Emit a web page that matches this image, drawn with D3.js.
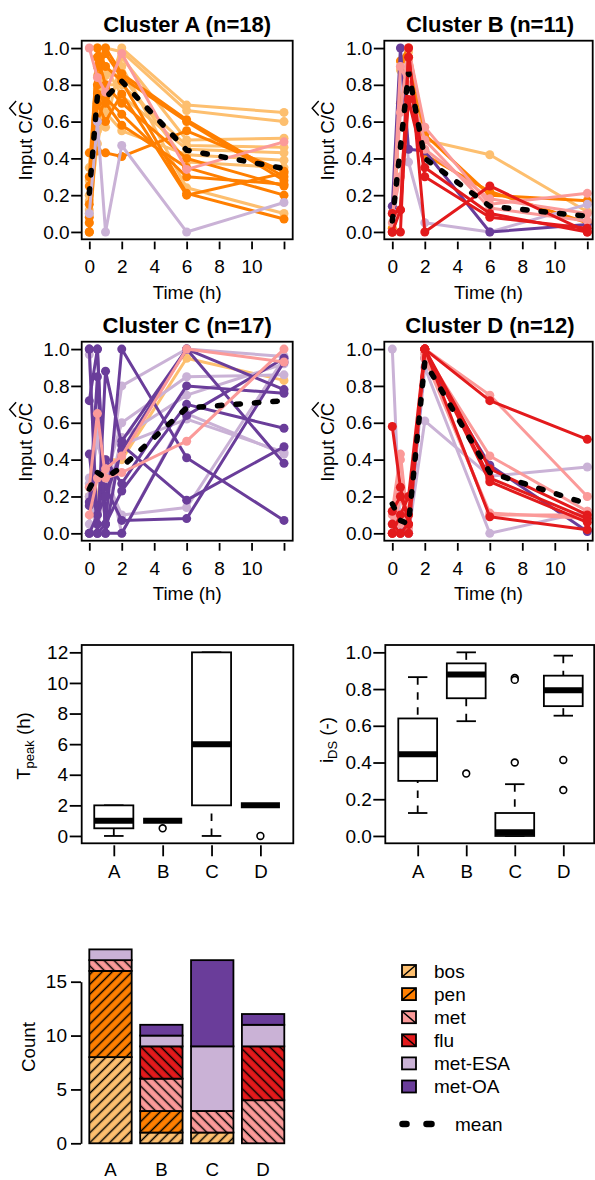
<!DOCTYPE html>
<html><head><meta charset="utf-8">
<script src="https://cdn.jsdelivr.net/npm/d3@7"></script>
<style>
body{margin:0;background:#fff}
svg{display:block}
text{font-family:"Liberation Sans",Arial,sans-serif;fill:#000}
</style>
</head><body>
<svg id="c" width="595" height="1180"></svg>
<script>
// ---------------- DATA ----------------
const times = [0, 0.5, 1, 2, 6, 12];
const timeTicks = [0, 2, 4, 6, 8, 10, 12];
const timeTickLabels = ["0", "2", "4", "6", "8", "10", ""];
const ratioTicks = [0, 0.2, 0.4, 0.6, 0.8, 1.0];
const drugs = ["bos", "pen", "met", "flu", "met-ESA", "met-OA"];
const drugColors = ["#FDBF6F", "#FF7F00", "#FB9A99", "#E31A1C", "#CAB2D6", "#6A3D9A"];
const clusterNames = ["A", "B", "C", "D"];
const clusterN = [18, 11, 17, 12];

// drug index of each series (0 bos,1 pen,2 met,3 flu,4 met-ESA,5 met-OA)
const clusterADrug = [0,0,0,0,0,0,0,0, 1,1,1,1,1,1,1,1, 2, 4];
const clusterAValues = [
  [0.28, 1.00, 0.75, 1.00, 0.69, 0.65],
  [0.10, 0.85, 1.00, 0.98, 0.66, 0.60],
  [0.17, 0.62, 0.57, 0.95, 0.50, 0.51],
  [0.05, 0.70, 0.80, 0.80, 0.47, 0.46],
  [0.00, 0.55, 0.90, 0.74, 0.45, 0.43],
  [0.35, 0.95, 0.65, 0.55, 0.42, 0.39],
  [0.20, 0.78, 0.85, 0.90, 0.24, 0.10],
  [0.12, 0.48, 0.70, 0.85, 0.38, 0.35],
  [0.43, 0.44, 0.43, 0.41, 0.55, 0.33],
  [0.00, 0.80, 1.00, 0.86, 0.61, 0.30],
  [0.05, 0.90, 0.97, 0.84, 0.60, 0.28],
  [0.00, 0.60, 0.73, 0.64, 0.30, 0.26],
  [0.15, 0.75, 0.70, 0.58, 0.35, 0.20],
  [0.25, 1.00, 0.90, 0.82, 0.21, 0.07],
  [0.08, 0.70, 0.60, 0.75, 0.20, 0.32],
  [0.30, 0.95, 0.80, 0.70, 0.40, 0.25],
  [1.00, 0.84, 0.76, 0.97, 0.34, 0.49],
  [0.10, 0.60, 0.00, 0.47, 0.00, 0.16]
];
const meanA = [0.21, 0.74, 0.73, 0.82, 0.445, 0.345];

const clusterBDrug = [0, 1,1, 2,2,2, 3,3,3, 4, 5];
const clusterBValues = [
  [0.00, 0.88, 0.98, 0.50, 0.42, 0.11],
  [0.02, 0.93, 1.00, 0.53, 0.20, 0.17],
  [0.00, 0.70, 0.95, 0.42, 0.22, 0.05],
  [0.05, 0.65, 1.00, 0.57, 0.15, 0.21],
  [0.00, 0.90, 0.80, 0.50, 0.13, 0.06],
  [0.10, 0.30, 0.70, 0.45, 0.18, 0.10],
  [0.00, 0.00, 1.00, 0.00, 0.25, 0.00],
  [0.10, 0.12, 0.95, 0.30, 0.08, 0.02],
  [0.00, 0.12, 0.72, 0.35, 0.10, 0.00],
  [0.00, 0.90, 0.38, 0.05, 0.00, 0.15],
  [0.14, 1.00, 0.45, 0.44, 0.00, 0.04]
];
const meanB = [0.06, 0.46, 0.87, 0.40, 0.14, 0.085];

const clusterCDrug = [0, 2,2, 4,4,4,4,4,4, 5,5,5,5,5,5,5,5];
const clusterCValues = [
  [0.20, 0.20, 0.40, 0.40, 0.95, 0.83],
  [0.25, 0.65, 0.30, 0.33, 0.50, 1.00],
  [0.10, 0.30, 0.35, 0.42, 1.00, 0.93],
  [0.97, 0.05, 0.20, 0.80, 1.00, 0.96],
  [0.27, 0.50, 0.30, 0.60, 0.85, 0.86],
  [0.00, 0.10, 0.30, 0.10, 0.14, 0.95],
  [0.20, 0.00, 0.40, 0.00, 0.65, 0.43],
  [0.05, 0.60, 0.15, 0.52, 0.75, 0.92],
  [0.30, 0.00, 0.05, 0.48, 0.62, 0.44],
  [1.00, 1.00, 0.05, 1.00, 0.41, 0.07],
  [1.00, 0.00, 0.88, 0.48, 0.18, 0.47],
  [0.72, 1.00, 0.00, 0.50, 1.00, 0.38],
  [0.43, 0.05, 0.40, 0.27, 0.80, 0.76],
  [0.17, 0.30, 0.25, 0.07, 0.08, 0.93],
  [0.00, 0.00, 0.05, 0.23, 0.70, 0.57],
  [0.15, 0.85, 0.00, 0.00, 0.64, 0.95],
  [0.00, 0.10, 0.20, 0.45, 1.00, 0.78]
];
const meanC = [0.24, 0.33, 0.30, 0.36, 0.68, 0.72];

const clusterDDrug = [2,2,2,2, 3,3,3,3,3, 4,4, 5];
const clusterDValues = [
  [0.12, 0.43, 0.03, 1.00, 0.75, 0.20],
  [0.05, 0.40, 0.00, 0.98, 0.42, 0.12],
  [0.00, 0.20, 0.05, 0.97, 0.10, 0.10],
  [0.10, 0.05, 0.10, 0.95, 0.11, 0.08],
  [0.58, 0.25, 0.05, 1.00, 0.72, 0.51],
  [0.12, 0.20, 0.10, 1.00, 0.35, 0.10],
  [0.00, 0.00, 0.00, 1.00, 0.30, 0.08],
  [0.05, 0.00, 0.05, 1.00, 0.09, 0.02],
  [0.00, 0.10, 0.20, 1.00, 0.28, 0.06],
  [1.00, 0.00, 0.00, 0.90, 0.00, 0.12],
  [0.00, 0.00, 0.00, 0.61, 0.31, 0.36],
  [0.05, 0.05, 0.00, 0.95, 0.37, 0.01]
];
const meanD = [0.16, 0.07, 0.05, 0.93, 0.33, 0.16];

// boxplot summaries [lower whisker, q1, median, q3, upper whisker]
const tpeakTicks = [0, 2, 4, 6, 8, 10, 12];
const tpeakBox = [[0, 0.5, 1, 2, 2], [1, 1, 1, 1, 1], [0, 2, 6, 12, 12], [2, 2, 2, 2, 2]];
const tpeakOut = [[], [0.5], [], [0]];
const idsTicks = [0, 0.2, 0.4, 0.6, 0.8, 1.0];
const idsBox = [[0.125, 0.30, 0.445, 0.64, 0.865], [0.625, 0.75, 0.88, 0.94, 1.0],
                [0.0, 0.0, 0.02, 0.125, 0.282], [0.655, 0.707, 0.793, 0.873, 0.982]];
const idsOut = [[], [0.34], [0.86, 0.85, 0.40], [0.414, 0.25]];

// stacked counts per cluster
const countTicks = [0, 5, 10, 15];
const countBos = [8, 1, 1, 0];
const countPen = [8, 2, 0, 0];
const countMet = [1, 3, 2, 4];
const countFlu = [0, 3, 0, 5];
const countMetESA = [1, 1, 6, 2];
const countMetOA = [0, 1, 8, 1];

// ---------------- DRAWING ----------------
const FONT = '"Liberation Sans", Arial, sans-serif';
const svg = d3.select("#c");
const defs = svg.append("defs");
function hatch(id, angle) {
  const p = defs.append("pattern").attr("id", id).attr("patternUnits", "userSpaceOnUse")
    .attr("width", 7).attr("height", 7).attr("patternTransform", `rotate(${angle})`);
  p.append("line").attr("x1", 3.5).attr("x2", 3.5).attr("y1", -1).attr("y2", 8)
    .attr("stroke", "#000").attr("stroke-width", 1.5);
}
hatch("hR", 45);
hatch("hL", -45);
const drugHatch = ["hR", "hR", "hL", "hL", null, null];
const drawRank = [0, 1, 4, 5, 2, 3];

function styleAxis(g, fs) {
  g.attr("font-family", FONT).attr("font-size", fs);
  g.select(".domain").remove();
  g.selectAll(".tick line").attr("stroke", "#000").attr("stroke-width", 1.8);
  g.selectAll(".tick text").attr("fill", "#000");
}

function ylabelHat(x, cy) {
  const g = svg.append("g").attr("transform", `translate(${x},${cy}) rotate(-90)`);
  const t = g.append("text").attr("text-anchor", "middle").attr("font-size", 18.7).text("Input C/C");
  const ex = t.node().getExtentOfChar(8);
  const top = -13.6;
  g.append("path")
    .attr("d", `M${ex.x - 0.5},${top - 2} L${ex.x + ex.width / 2},${top - 8.5} L${ex.x + ex.width + 0.5},${top - 2}`)
    .attr("fill", "none").attr("stroke", "#000").attr("stroke-width", 1.4);
}

const panels = [
  {c: 0, l: 81.7, r: 292.7, t: 40.7, b: 239.3, x0: 89.3, x12: 284.0, drug: clusterADrug, vals: clusterAValues, mean: meanA},
  {c: 1, l: 384.3, r: 592.7, t: 40.7, b: 239.3, x0: 392.3, x12: 587.3, drug: clusterBDrug, vals: clusterBValues, mean: meanB},
  {c: 2, l: 81.7, r: 292.7, t: 341.7, b: 540.7, x0: 89.3, x12: 284.0, drug: clusterCDrug, vals: clusterCValues, mean: meanC},
  {c: 3, l: 384.3, r: 592.7, t: 341.7, b: 540.7, x0: 392.3, x12: 587.3, drug: clusterDDrug, vals: clusterDValues, mean: meanD}
];

panels.forEach((p, pi) => {
  const x = d3.scaleLinear().domain([0, 12]).range([p.x0, p.x12]);
  const y = d3.scaleLinear().domain([-0.04, 1.04]).range([p.b, p.t]);
  defs.append("clipPath").attr("id", "clip" + pi).append("rect")
    .attr("x", p.l).attr("y", p.t).attr("width", p.r - p.l).attr("height", p.b - p.t);
  const g = svg.append("g").attr("clip-path", `url(#clip${pi})`);
  const order = d3.range(p.vals.length).sort((a, b) => drawRank[p.drug[a]] - drawRank[p.drug[b]] || a - b);
  const line = d3.line().x((d, i) => x(times[i])).y(d => y(d));
  order.forEach(si => {
    const col = drugColors[p.drug[si]];
    g.append("path").attr("d", line(p.vals[si])).attr("fill", "none")
      .attr("stroke", col).attr("stroke-width", 3).attr("stroke-linejoin", "round");
    g.selectAll(null).data(p.vals[si]).enter().append("circle")
      .attr("cx", (d, i) => x(times[i])).attr("cy", d => y(d)).attr("r", 4.5).attr("fill", col);
  });
  g.append("path").attr("d", line(p.mean)).attr("fill", "none").attr("stroke", "#000")
    .attr("stroke-width", 5.5).attr("stroke-dasharray", "4.5,14").attr("stroke-linecap", "round");
  // box
  svg.append("rect").attr("x", p.l).attr("y", p.t).attr("width", p.r - p.l).attr("height", p.b - p.t)
    .attr("fill", "none").attr("stroke", "#000").attr("stroke-width", 1.8);
  // axes
  const ay = svg.append("g").attr("transform", `translate(${p.l},0)`)
    .call(d3.axisLeft(y).tickValues(ratioTicks).tickFormat(d3.format(".1f")).tickSize(10.5).tickPadding(1.5));
  styleAxis(ay, 19);
  const ax = svg.append("g").attr("transform", `translate(0,${p.b + 2.3})`)
    .call(d3.axisBottom(x).tickValues(timeTicks).tickFormat((d, i) => timeTickLabels[i]).tickSize(7.7).tickPadding(10.5));
  styleAxis(ax, 19);
  svg.append("text").attr("x", (p.l + p.r) / 2 + (pi % 2 ? 1.5 : 0)).attr("y", p.t - 9)
    .attr("text-anchor", "middle").attr("font-size", 22).attr("font-weight", "bold")
    .text(`Cluster ${clusterNames[p.c]} (n=${clusterN[p.c]})`);
  svg.append("text").attr("x", (p.l + p.r) / 2).attr("y", p.b + 59.5)
    .attr("text-anchor", "middle").attr("font-size", 18.7).text("Time (h)");
  ylabelHat(p.l - 50, (p.t + p.b) / 2 + 1);
});

// ---------------- BOXPLOTS ----------------
function boxPanel(o) {
  const x = d3.scaleLinear().domain([1, 4]).range([o.xA, o.xD]);
  const y = d3.scaleLinear().domain(o.ydom).range([o.b, o.t]);
  const unit = (o.xD - o.xA) / 3;
  const bw = 0.8 * unit, sw = 0.4 * unit;
  const g = svg.append("g");
  o.stats.forEach((s, i) => {
    const cx = x(i + 1);
    [[s[0], s[1]], [s[4], s[3]]].forEach(([e, h]) => {
      if (e !== h) g.append("line").attr("x1", cx).attr("x2", cx).attr("y1", y(e)).attr("y2", y(h))
        .attr("stroke", "#000").attr("stroke-width", 1.8).attr("stroke-dasharray", "7.5,7.5");
      g.append("line").attr("x1", cx - sw / 2).attr("x2", cx + sw / 2).attr("y1", y(e)).attr("y2", y(e))
        .attr("stroke", "#000").attr("stroke-width", 1.8);
    });
    g.append("rect").attr("x", cx - bw / 2).attr("width", bw).attr("y", y(s[3])).attr("height", y(s[1]) - y(s[3]))
      .attr("fill", "#fff").attr("stroke", "#000").attr("stroke-width", 1.8);
    g.append("line").attr("x1", cx - bw / 2).attr("x2", cx + bw / 2).attr("y1", y(s[2])).attr("y2", y(s[2]))
      .attr("stroke", "#000").attr("stroke-width", 6);
    o.out[i].forEach(v => g.append("circle").attr("cx", cx).attr("cy", y(v)).attr("r", 3.4)
      .attr("fill", "#fff").attr("stroke", "#000").attr("stroke-width", 1.6));
  });
  svg.append("rect").attr("x", o.l).attr("y", o.t).attr("width", o.r - o.l).attr("height", o.b - o.t)
    .attr("fill", "none").attr("stroke", "#000").attr("stroke-width", 1.8);
  const ay = svg.append("g").attr("transform", `translate(${o.l},0)`)
    .call(d3.axisLeft(y).tickValues(o.ticks).tickFormat(o.fmt).tickSize(12).tickPadding(1.5));
  styleAxis(ay, 19);
  const ax = svg.append("g").attr("transform", `translate(0,${o.b + 2})`)
    .call(d3.axisBottom(x).tickValues([1, 2, 3, 4]).tickFormat(d => clusterNames[d - 1]).tickSize(11).tickPadding(8));
  styleAxis(ax, 18.7);
}
boxPanel({l: 81.7, r: 293.3, t: 645, b: 843.3, xA: 113.8, xD: 260.4, ydom: [-0.48, 12.48],
  stats: tpeakBox, out: tpeakOut, ticks: tpeakTicks, fmt: d3.format("d")});
boxPanel({l: 385.3, r: 594.2, t: 645, b: 843.3, xA: 417.7, xD: 563.3, ydom: [-0.04, 1.04],
  stats: idsBox, out: idsOut, ticks: idsTicks, fmt: d3.format(".1f")});

svg.append("text").attr("transform", "translate(30,746) rotate(-90)").attr("text-anchor", "middle")
  .attr("font-size", 18.7)
  .html('T<tspan font-size="13" dy="4">peak</tspan><tspan dy="-4"> (h)</tspan>');
svg.append("text").attr("transform", "translate(333,740) rotate(-90)").attr("text-anchor", "middle")
  .attr("font-size", 18.7)
  .html('i<tspan font-size="13" dy="4">DS</tspan><tspan dy="-4"> (-)</tspan>');

// ---------------- STACKED BARS ----------------
const counts = clusterNames.map((c, i) => ({c, bos: countBos[i], pen: countPen[i], met: countMet[i],
  flu: countFlu[i], "met-ESA": countMetESA[i], "met-OA": countMetOA[i]}));
const stack = d3.stack().keys(drugs)(counts);
const xb = d3.scaleBand().domain(clusterNames).range([89.3, 284.3]).paddingInner(1 / 6).paddingOuter(0);
const yb = d3.scaleLinear().domain([0, 15]).range([1143.3, 981.7]);
const gb = svg.append("g");
stack.forEach((layer, k) => {
  layer.forEach((d, i) => {
    if (d[1] - d[0] <= 0) return;
    const xx = xb(clusterNames[i]), yy = yb(d[1]), hh = yb(d[0]) - yb(d[1]);
    gb.append("rect").attr("x", xx).attr("y", yy).attr("width", xb.bandwidth()).attr("height", hh)
      .attr("fill", drugColors[k]);
    if (drugHatch[k]) gb.append("rect").attr("x", xx).attr("y", yy).attr("width", xb.bandwidth()).attr("height", hh)
      .attr("fill", `url(#${drugHatch[k]})`);
    gb.append("rect").attr("x", xx).attr("y", yy).attr("width", xb.bandwidth()).attr("height", hh)
      .attr("fill", "none").attr("stroke", "#000").attr("stroke-width", 1.8);
  });
});
const ayb = svg.append("g").attr("transform", "translate(81,0)")
  .call(d3.axisLeft(yb).tickValues(countTicks).tickSize(10).tickSizeOuter(0).tickPadding(4));
ayb.attr("font-family", FONT).attr("font-size", 19);
ayb.select(".domain").attr("stroke", "#000").attr("stroke-width", 1.8);
ayb.selectAll(".tick line").attr("stroke", "#000").attr("stroke-width", 1.8);
const axb = svg.append("g").attr("transform", "translate(0,1143.3)")
  .call(d3.axisBottom(xb).tickSize(0).tickPadding(19));
styleAxis(axb, 18.7);
svg.append("text").attr("transform", "translate(35,1047) rotate(-90)").attr("text-anchor", "middle")
  .attr("font-size", 18.7).text("Count");

// legend
const lg = svg.append("g");
drugs.forEach((d, k) => {
  const cy = 971 + k * 23.1;
  const x0 = 402, w = 14, h = 12;
  lg.append("rect").attr("x", x0).attr("y", cy - h / 2).attr("width", w).attr("height", h).attr("fill", drugColors[k]);
  if (drugHatch[k] === "hR") lg.append("line").attr("x1", x0).attr("y1", cy + h / 2).attr("x2", x0 + w).attr("y2", cy - h / 2)
    .attr("stroke", "#000").attr("stroke-width", 1.5);
  if (drugHatch[k] === "hL") lg.append("line").attr("x1", x0).attr("y1", cy - h / 2).attr("x2", x0 + w).attr("y2", cy + h / 2)
    .attr("stroke", "#000").attr("stroke-width", 1.5);
  lg.append("rect").attr("x", x0).attr("y", cy - h / 2).attr("width", w).attr("height", h)
    .attr("fill", "none").attr("stroke", "#000").attr("stroke-width", 1.8);
  lg.append("text").attr("x", 434).attr("y", cy + 6.5).attr("font-size", 19).text(d);
});
[[402.5, 406.5], [426.5, 431.5]].forEach(([a, b]) => lg.append("line").attr("x1", a).attr("x2", b)
  .attr("y1", 1124).attr("y2", 1124).attr("stroke", "#000").attr("stroke-width", 6.5).attr("stroke-linecap", "round"));
lg.append("text").attr("x", 455).attr("y", 1130.5).attr("font-size", 19).text("mean");
</script>
</body></html>
